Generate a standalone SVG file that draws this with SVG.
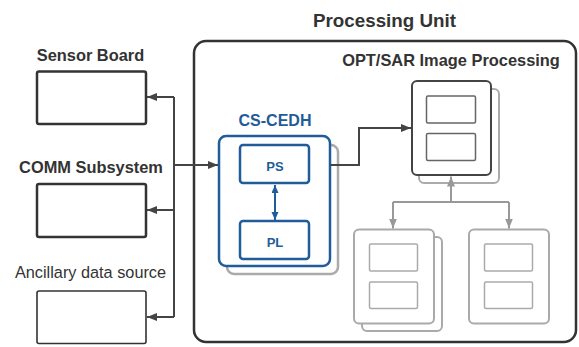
<svg xmlns="http://www.w3.org/2000/svg" width="579" height="347" viewBox="0 0 579 347">
<defs>
<style>
.t{font-family:"Liberation Sans",Arial,sans-serif;fill:#333;text-anchor:middle}
.b{font-weight:bold}
.blue{fill:#1f5c99}
.box{fill:#fff;stroke:#333;stroke-width:2.5}
.gbox{fill:#fff;stroke:#aaa;stroke-width:2}
.ginner{fill:#fff;stroke:#aaa;stroke-width:1.5}
.dinner{fill:#fff;stroke:#666;stroke-width:1.5}
.bbox{fill:#fff;stroke:#1f5c99;stroke-width:2.5}
.dl{fill:none;stroke:#444;stroke-width:2}
.gl{fill:none;stroke:#999;stroke-width:2}
.bl{fill:none;stroke:#1f5c99;stroke-width:2}
</style>
<marker id="ad" markerUnits="userSpaceOnUse" markerWidth="11" markerHeight="9" refX="10" refY="4" orient="auto"><path d="M0,0 L10,4 L0,8 z" fill="#444"/></marker>
<marker id="ag" markerUnits="userSpaceOnUse" markerWidth="11" markerHeight="9" refX="10" refY="4" orient="auto"><path d="M0,0 L10,4 L0,8 z" fill="#999"/></marker>
<marker id="ab" markerUnits="userSpaceOnUse" markerWidth="9" markerHeight="8" refX="8" refY="3.5" orient="auto-start-reverse"><path d="M0,0 L8,3.5 L0,7 z" fill="#1f5c99"/></marker>
</defs>
<rect width="579" height="347" fill="#fff"/>

<g id="processing-unit">
<text class="t b" x="384.5" y="27" font-size="18.8">Processing Unit</text>
<rect x="194" y="41" width="382" height="301" rx="12" fill="#fff" stroke="#333" stroke-width="2.5"/>
<text class="t b" x="451" y="66" font-size="16.4">OPT/SAR Image Processing</text>
</g>

<g id="sensor-board">
<text class="t b" x="90.5" y="61" font-size="16.4">Sensor Board</text>
<rect class="box" x="37" y="71.5" width="109" height="52.5" rx="2"/>
</g>
<g id="comm-subsystem">
<text class="t b" x="91" y="173" font-size="16.4">COMM Subsystem</text>
<rect class="box" x="37" y="184" width="109" height="53" rx="2"/>
</g>
<g id="ancillary">
<text class="t" x="90.5" y="278" font-size="16.3">Ancillary data source</text>
<rect x="37" y="291" width="109" height="52.5" rx="2" fill="#fff" stroke="#333" stroke-width="1.6"/>
</g>

<g id="cs-cedh">
<text class="t b blue" x="275" y="126" font-size="16">CS-CEDH</text>
<rect x="227" y="145" width="111" height="129" rx="7" fill="#fff" stroke="#aaa" stroke-width="2.5"/>
<rect class="bbox" x="219" y="136" width="111" height="130" rx="7"/>
</g>
<g id="ps">
<rect class="bbox" x="240" y="145" width="69" height="38" rx="3"/>
<text class="t b blue" x="275" y="170.5" font-size="13">PS</text>
</g>
<g id="pl">
<rect class="bbox" x="240" y="221" width="69" height="38" rx="3"/>
<text class="t b blue" x="275" y="246.5" font-size="13">PL</text>
</g>

<g id="opt-top">
<rect class="gbox" x="419" y="89" width="80" height="94" rx="5"/>
<rect x="412" y="81" width="79" height="94" rx="5" fill="#fff" stroke="#444" stroke-width="2"/>
<rect class="dinner" x="426.5" y="96" width="49" height="27" rx="1.5"/>
<rect class="dinner" x="426.5" y="133.5" width="49" height="27" rx="1.5"/>
</g>
<g id="opt-bottom-left">
<rect class="gbox" x="362" y="237" width="80" height="94" rx="5"/>
<rect class="gbox" x="354" y="229.5" width="80" height="94" rx="5"/>
<rect class="ginner" x="369.5" y="244" width="48" height="27" rx="1.5"/>
<rect class="ginner" x="369.5" y="282" width="48" height="26.5" rx="1.5"/>
</g>
<g id="opt-bottom-right">
<rect class="gbox" x="469" y="229.5" width="80" height="94" rx="5"/>
<rect class="ginner" x="484.5" y="244" width="48" height="27" rx="1.5"/>
<rect class="ginner" x="484.5" y="282" width="48" height="26.5" rx="1.5"/>
</g>

<g id="connectors">
<path class="dl" d="M174,97 V317"/>
<path class="dl" d="M174,97 H147" marker-end="url(#ad)"/>
<path class="dl" d="M174,210 H147" marker-end="url(#ad)"/>
<path class="dl" d="M174,317 H147" marker-end="url(#ad)"/>
<path class="dl" d="M174,165 H218" marker-end="url(#ad)"/>
<path class="dl" d="M330,165 H359 V128 H411" marker-end="url(#ad)"/>
<path class="bl" d="M275,185 V220" marker-start="url(#ab)" marker-end="url(#ab)"/>
<path class="gl" d="M451,202 V176.5" marker-end="url(#ag)"/>
<path class="gl" d="M393,202 H509"/>
<path class="gl" d="M393,202 V228.5" marker-end="url(#ag)"/>
<path class="gl" d="M509,202 V228.5" marker-end="url(#ag)"/>
</g>
</svg>
